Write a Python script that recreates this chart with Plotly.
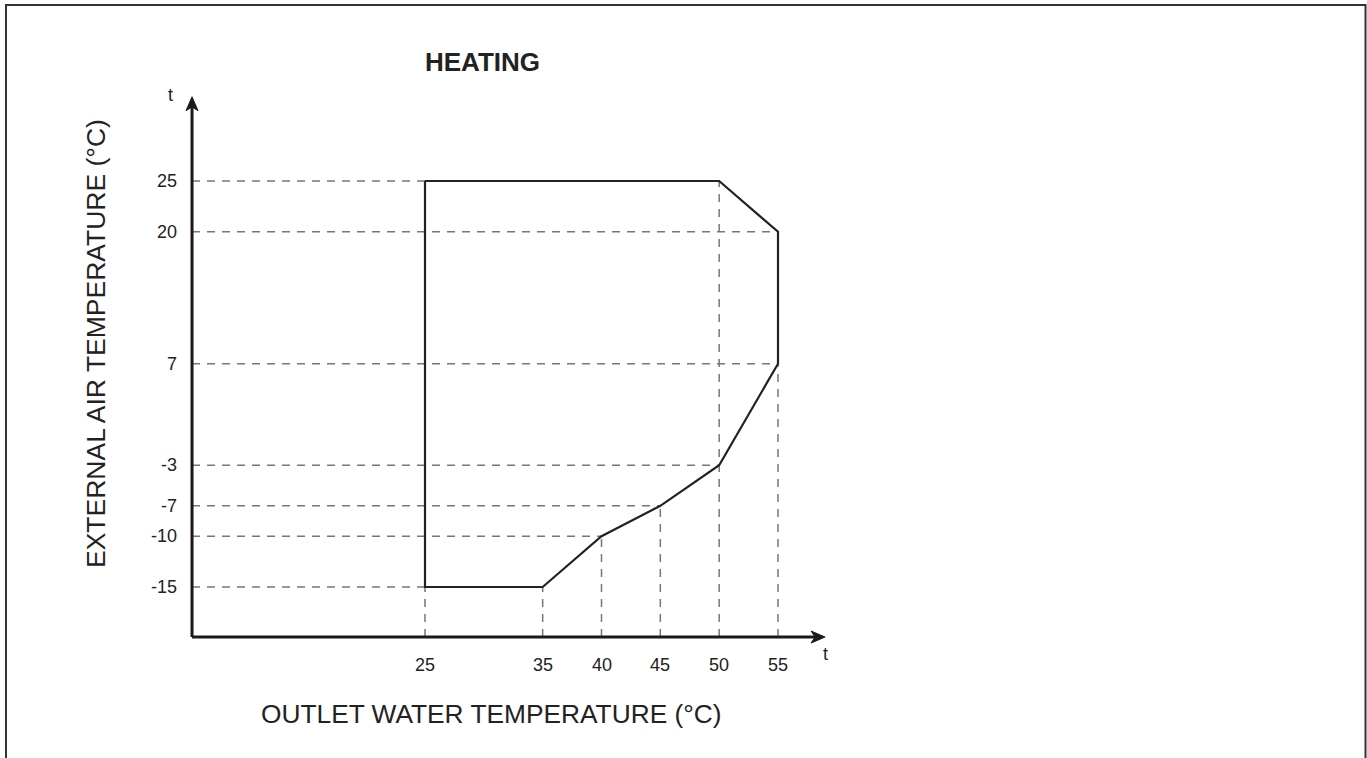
import plotly.graph_objects as go

# ---- data ----
water_temp = [25, 50, 55, 55, 50, 45, 40, 35, 25, 25]   # outlet water temperature (°C)
air_temp = [25, 25, 20, 7, -3, -7, -10, -15, -15, 25]   # external air temperature (°C)
x_ticks = [25, 35, 40, 45, 50, 55]
y_ticks = [25, 20, 7, -3, -7, -10, -15]

title_text = "HEATING"
x_title = "OUTLET WATER TEMPERATURE (°C)"
y_title = "EXTERNAL AIR TEMPERATURE (°C)"

W, H = 1367, 758
FONT = "Liberation Sans, Arial, sans-serif"

# axis origin / arrow tips (data units)
X0, Y0 = 5.2, -19.93
X_END, Y_END = 59.0, 33.3

# pixel scale
x_px = (778 - 425) / 30.0
y_px = (587 - 181) / 40.0
x_range = [25 - 425 / x_px, 25 + (W - 425) / x_px]
y_range = [-15 - (H - 587) / y_px, 25 + 181 / y_px]

fig = go.Figure()

# dashed guide lines
gx, gy = [], []
for yt in y_ticks:
    xs = [x for x, y in zip(water_temp, air_temp) if y == yt]
    gx += [X0, max(xs), None]
    gy += [yt, yt, None]
for xt in x_ticks:
    ys = [y for x, y in zip(water_temp, air_temp) if x == xt]
    gx += [xt, xt, None]
    gy += [Y0, max(ys), None]
fig.add_trace(go.Scatter(x=gx, y=gy, mode="lines",
                         line=dict(color="#777777", width=1.5, dash="8px,7px"),
                         hoverinfo="skip", showlegend=False))

# envelope
fig.add_trace(go.Scatter(x=water_temp, y=air_temp, mode="lines",
                         line=dict(color="#222222", width=2.2),
                         hoverinfo="skip", showlegend=False))

# axes lines
fig.add_trace(go.Scatter(x=[X0, X_END - 0.6], y=[Y0, Y0], mode="lines",
                         line=dict(color="#1a1a1a", width=3), hoverinfo="skip", showlegend=False))
fig.add_trace(go.Scatter(x=[X0, X0], y=[Y0, Y_END - 0.8], mode="lines",
                         line=dict(color="#1a1a1a", width=3), hoverinfo="skip", showlegend=False))

shapes = []
# arrow heads
ax_len, ax_hw, ax_notch = 14 / x_px, 6 / y_px, 10 / x_px
shapes.append(dict(type="path", xref="x", yref="y",
                   path=f"M {X_END},{Y0} L {X_END-ax_len},{Y0+ax_hw} L {X_END-ax_notch},{Y0} L {X_END-ax_len},{Y0-ax_hw} Z",
                   fillcolor="#1a1a1a", line=dict(color="#1a1a1a", width=1)))
ay_len, ay_hw, ay_notch = 14 / y_px, 6 / x_px, 10 / y_px
shapes.append(dict(type="path", xref="x", yref="y",
                   path=f"M {X0},{Y_END} L {X0+ay_hw},{Y_END-ay_len} L {X0},{Y_END-ay_notch} L {X0-ay_hw},{Y_END-ay_len} Z",
                   fillcolor="#1a1a1a", line=dict(color="#1a1a1a", width=1)))
# frame
shapes.append(dict(type="rect", xref="paper", yref="paper",
                   x0=6 / W, x1=1365.5 / W, y0=-0.2, y1=1 - 5 / H,
                   line=dict(color="#333333", width=2), fillcolor="rgba(0,0,0,0)"))

ann = []
for yt in y_ticks:
    ann.append(dict(x=X0, y=yt, xref="x", yref="y", text=str(yt), showarrow=False,
                    xanchor="right", yanchor="middle", xshift=-13,
                    font=dict(family=FONT, size=18, color="#222222")))
for xt in x_ticks:
    ann.append(dict(x=xt, y=Y0, xref="x", yref="y", text=str(xt), showarrow=False,
                    xanchor="center", yanchor="middle", yshift=-28,
                    font=dict(family=FONT, size=18, color="#222222")))
# 't' labels
ann.append(dict(x=X_END, y=Y0, xref="x", yref="y", text="t", showarrow=False,
                xanchor="center", yanchor="middle", yshift=-17,
                font=dict(family=FONT, size=18, color="#222222")))
ann.append(dict(x=X0, y=Y_END, xref="x", yref="y", text="t", showarrow=False,
                xanchor="center", yanchor="middle", xshift=-22, yshift=2,
                font=dict(family=FONT, size=18, color="#222222")))
# titles
ann.append(dict(x=482 / W, y=1 - 62 / H, xref="paper", yref="paper", text=f"<b>{title_text}</b>",
                showarrow=False, xanchor="center", yanchor="middle",
                font=dict(family=FONT, size=26, color="#222222")))
ann.append(dict(x=491 / W, y=1 - 714 / H, xref="paper", yref="paper", text=x_title,
                showarrow=False, xanchor="center", yanchor="middle",
                font=dict(family=FONT, size=26.3, color="#222222")))
ann.append(dict(x=96 / W, y=1 - 344 / H, xref="paper", yref="paper", text=y_title,
                showarrow=False, xanchor="center", yanchor="middle", textangle=-90,
                font=dict(family=FONT, size=26.5, color="#222222")))

fig.update_layout(
    width=W, height=H,
    margin=dict(l=0, r=0, t=0, b=0),
    paper_bgcolor="white", plot_bgcolor="white",
    xaxis=dict(range=x_range, visible=False, fixedrange=True),
    yaxis=dict(range=y_range, visible=False, fixedrange=True),
    shapes=shapes, annotations=ann,
    showlegend=False,
)

fig.write_html("out.html", config={"displayModeBar": False},
               post_script="document.body.style.margin='0px';document.body.style.overflow='hidden';")
